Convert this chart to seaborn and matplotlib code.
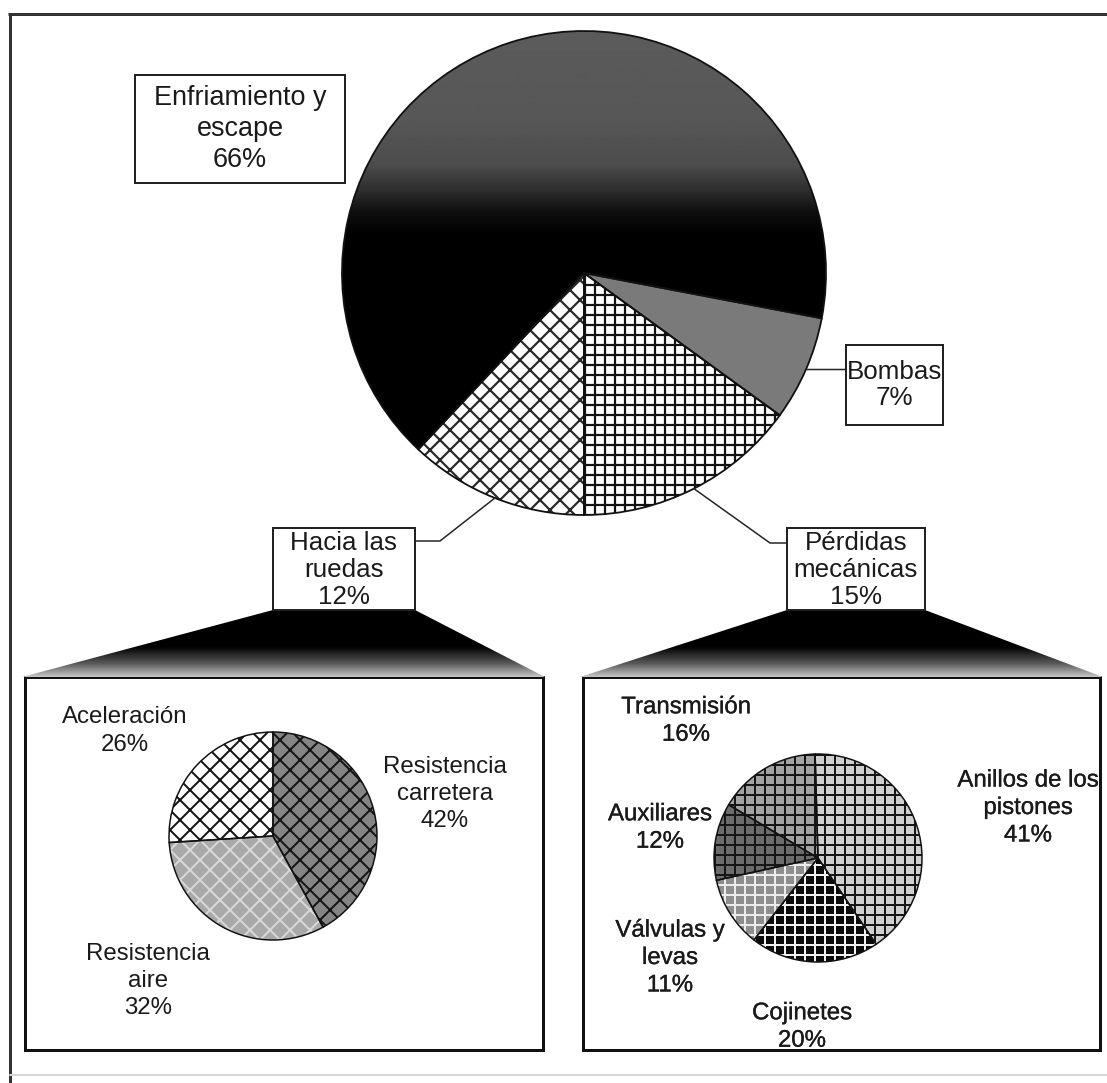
import numpy as np
import matplotlib
matplotlib.use("Agg")
import matplotlib.pyplot as plt
import matplotlib.patheffects as pe
from matplotlib.patches import Rectangle, Polygon, Wedge
import seaborn as sns

# ---------------------------------------------------------------------------
# Data
# ---------------------------------------------------------------------------
main_labels = ["Pérdidas\nmecánicas", "Bombas", "Enfriamiento y\nescape", "Hacia las\nruedas"]
main_values = [15, 7, 66, 12]

ruedas_labels = ["Aceleración", "Resistencia\naire", "Resistencia\ncarretera"]
ruedas_values = [26, 32, 42]

perdidas_labels = ["Anillos de los\npistones", "Transmisión", "Auxiliares",
                   "Válvulas y\nlevas", "Cojinetes"]
perdidas_values = [41, 16, 12, 11, 20]

# ---------------------------------------------------------------------------
# Canvas: one axes covering the figure, one data unit per pixel
# ---------------------------------------------------------------------------
W, H = 1107, 1083
DPI = 60
PT = 72 / DPI          # points per pixel

sns.set_theme(style="white")
plt.rcParams["font.family"] = ["Liberation Sans", "DejaVu Sans"]
plt.rcParams["hatch.linewidth"] = 2.0 * PT

fig = plt.figure(figsize=(W / DPI, H / DPI), dpi=DPI, facecolor="white")
ax = fig.add_axes([0, 0, 1, 1])


def Y(py):
    """Convert a top-down pixel row to the axes' bottom-up y."""
    return H - py


def pct(label, value):
    return f"{label}\n{value}%"


def hatched_pie(values, colors, hatches, hatch_colors, center, radius, start,
                edge_lw=1.5, hatch_lw=2.0):
    cx, cy = center
    wedges, _ = ax.pie(values, colors=colors, startangle=start, counterclock=True,
                       center=(cx, Y(cy)), radius=radius,
                       wedgeprops=dict(linewidth=0, edgecolor="none"))
    plt.rcParams["hatch.linewidth"] = hatch_lw * PT
    for w, h, hc in zip(wedges, hatches, hatch_colors):
        if not h:
            continue
        hw = Wedge(w.center, w.r, w.theta1, w.theta2, fill=False, hatch=h,
                   edgecolor=hc, linewidth=0, zorder=1.2)
        if hasattr(hw, "set_hatchcolor"):
            hw.set_hatchcolor(hc)
        if hasattr(hw, "set_hatch_linewidth"):
            hw.set_hatch_linewidth(hatch_lw * PT)
        ax.add_patch(hw)
    ax.pie(values, startangle=start, counterclock=True,
           center=(cx, Y(cy)), radius=radius,
           wedgeprops=dict(linewidth=edge_lw * PT, edgecolor="#111111",
                           fill=False, zorder=2))
    return wedges


def box(x0, y0, x1, y1, lw=2.0, color="#222222", z=3):
    ax.add_patch(Rectangle((x0, Y(y1)), x1 - x0, y1 - y0, facecolor="white",
                           edgecolor=color, linewidth=lw * PT, zorder=z))


def gradient_fill(clip, x0, x1, y0, y1, rows, zorder):
    img = np.asarray(rows, dtype=float).reshape(-1, 1)
    im = ax.imshow(img, extent=[x0, x1, Y(y1), Y(y0)], origin="upper",
                   cmap="gray", vmin=0, vmax=1, aspect="auto",
                   interpolation="bilinear", zorder=zorder)
    im.set_clip_path(clip)


# ---------------------------------------------------------------------------
# Outer frame
# ---------------------------------------------------------------------------
ax.plot([8, W], [Y(14), Y(14)], color="#333333", lw=3 * PT, solid_capstyle="butt")
ax.plot([10, 10], [Y(14), Y(H)], color="#333333", lw=3 * PT, solid_capstyle="butt")
ax.plot([10, W], [Y(1075), Y(1075)], color="#d6d6d6", lw=2 * PT)

# ---------------------------------------------------------------------------
# Main pie
# ---------------------------------------------------------------------------
MAIN_C, MAIN_R = (584, 273), 242
main_w = hatched_pie(main_values,
                     colors=["white", "#7a7a7a", "#050505", "white"],
                     hatches=["+", None, None, "x"],
                     hatch_colors=["#111111", None, None, "#2a2a2a"],
                     center=MAIN_C, radius=MAIN_R, start=270, edge_lw=1.8,
                     hatch_lw=2.2)

# shaded top of the largest slice
py = np.arange(MAIN_C[1] - MAIN_R, MAIN_C[1] + MAIN_R + 1)
shade = np.interp(py, [30, 120, 165, 190, 212, 235, 520],
                  [0.36, 0.34, 0.30, 0.18, 0.06, 0.0, 0.0])
gradient_fill(main_w[2], MAIN_C[0] - MAIN_R, MAIN_C[0] + MAIN_R,
              MAIN_C[1] - MAIN_R, MAIN_C[1] + MAIN_R, shade, zorder=1.1)


def edge_point(w):
    mid = np.deg2rad((w.theta1 + w.theta2) / 2)
    return w.center[0] + w.r * np.cos(mid), w.center[1] + w.r * np.sin(mid)


FS_MAIN = 26 * PT
txt_main = dict(ha="center", va="center", fontsize=FS_MAIN, color="#1a1a1a",
                linespacing=1.15, zorder=4)

# Enfriamiento y escape (taller box, looser lines)
box(135, 75, 345, 183)
ax.text(240, Y(129), pct(main_labels[2], main_values[2]),
        **{**txt_main, "linespacing": 1.27, "fontsize": 27 * PT})

# Bombas
bx, by = edge_point(main_w[1])
ax.plot([bx, 846], [by, by], color="#222222", lw=1.5 * PT)
box(846, 345, 943, 425)
ax.text(894.5, Y(385), pct(main_labels[1], main_values[1]), **txt_main)

# Hacia las ruedas
hx, hy = edge_point(main_w[3])
ax.plot([hx, 440, 415], [hy, Y(541), Y(541)], color="#222222", lw=1.5 * PT)
box(273, 528, 415, 610)
ax.text(344, Y(570), pct(main_labels[3], main_values[3]), **txt_main)

# Pérdidas mecánicas
px_, py_ = edge_point(main_w[0])
ax.plot([px_, 770, 787], [py_, Y(543), Y(543)], color="#222222", lw=1.5 * PT)
box(787, 528, 925, 610)
ax.text(856, Y(570), pct(main_labels[0], main_values[0]), **txt_main)

# ---------------------------------------------------------------------------
# Funnels from the boxes to the detail panels
# ---------------------------------------------------------------------------
funnel_rows = np.interp(np.linspace(0, 1, 200), [0, 0.55, 0.8, 1.0],
                        [0.0, 0.0, 0.35, 0.78])
for top, bottom in [((273, 415), (22, 545)), ((787, 925), (580, 1103))]:
    poly = Polygon([(top[0], Y(610)), (top[1], Y(610)),
                    (bottom[1], Y(677)), (bottom[0], Y(677))],
                   closed=True, facecolor="none", edgecolor="none", zorder=1)
    ax.add_patch(poly)
    gradient_fill(poly, bottom[0], bottom[1], 610, 677, funnel_rows, zorder=1)

# ---------------------------------------------------------------------------
# Detail panel: Hacia las ruedas
# ---------------------------------------------------------------------------
box(25, 677, 543, 1050, lw=3.0, color="#111111", z=0.5)
hatched_pie(ruedas_values,
            colors=["white", "#a9a9a9", "#858585"],
            hatches=["x", "x", "x"],
            hatch_colors=["#151515", "#d8d8d8", "#151515"],
            center=(273, 836), radius=104, start=90, edge_lw=1.5, hatch_lw=2.0)

FS_SUB = 24 * PT
txt_left = dict(ha="center", va="center", fontsize=FS_SUB, color="#1a1a1a",
                linespacing=1.32, zorder=4)
ax.text(125, Y(731), pct(ruedas_labels[0], ruedas_values[0]), **txt_left)
ax.text(148, Y(981), pct(ruedas_labels[1], ruedas_values[1]), **txt_left)
ax.text(445, Y(794), pct(ruedas_labels[2], ruedas_values[2]), **txt_left)

# ---------------------------------------------------------------------------
# Detail panel: Pérdidas mecánicas
# ---------------------------------------------------------------------------
box(583, 677, 1100, 1050, lw=3.0, color="#111111", z=0.5)
hatched_pie(perdidas_values,
            colors=["#cfcfcf", "#a3a3a3", "#6c6c6c", "#8e8e8e", "#0a0a0a"],
            hatches=["+", "+", "+", "+", "+"],
            hatch_colors=["#151515", "#151515", "#151515", "#ececec", "#f2f2f2"],
            center=(818, 858), radius=104, start=-56, edge_lw=1.5, hatch_lw=2.0)

txt_right = dict(txt_left)
txt_right["path_effects"] = [pe.withStroke(linewidth=0.3 * PT, foreground="#1a1a1a")]
ax.text(1028, Y(808), pct(perdidas_labels[0], perdidas_values[0]), **txt_right)
ax.text(686, Y(721), pct(perdidas_labels[1], perdidas_values[1]), **txt_right)
ax.text(660, Y(828), pct(perdidas_labels[2], perdidas_values[2]), **txt_right)
ax.text(670, Y(958), pct(perdidas_labels[3], perdidas_values[3]), **txt_right)
ax.text(802, Y(1027), pct(perdidas_labels[4], perdidas_values[4]), **txt_right)

# ---------------------------------------------------------------------------
ax.set_xlim(0, W)
ax.set_ylim(0, H)
ax.set_aspect("auto")
ax.set_axis_off()
fig.savefig("out.png", dpi=DPI, facecolor="white")
